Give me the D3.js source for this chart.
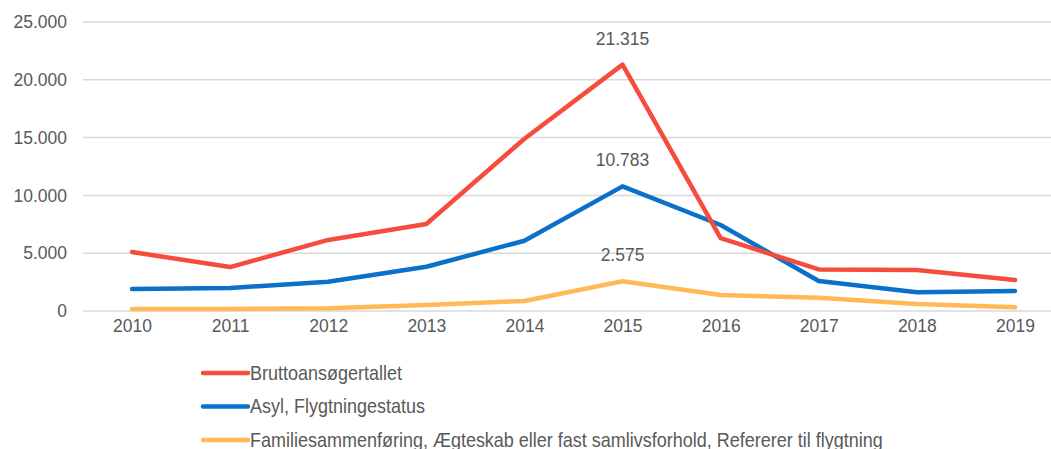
<!DOCTYPE html>
<html>
<head>
<meta charset="utf-8">
<script src="https://cdn.jsdelivr.net/npm/d3@7"></script>
<style>
  body { margin: 0; background: #fff; }
  svg text { font-family: "Liberation Sans", Arial, sans-serif; fill: #595959; }
</style>
</head>
<body>
<div id="chart"></div>
<script>
// data
var years = ["2010", "2011", "2012", "2013", "2014", "2015", "2016", "2017", "2018", "2019"];
var brutto = [5100, 3800, 6150, 7520, 14900, 21315, 6300, 3600, 3550, 2680];
var asyl = [1900, 2000, 2530, 3830, 6080, 10783, 7440, 2600, 1620, 1730];
var familie = [170, 170, 230, 520, 870, 2575, 1380, 1150, 600, 320];
var yTicks = [0, 5000, 10000, 15000, 20000, 25000];
var seriesNames = ["Bruttoansøgertallet", "Asyl, Flygtningestatus",
    "Familiesammenføring, Ægteskab eller fast samlivsforhold, Refererer til flygtning"];
var seriesColors = ["#f64c3d", "#0a70c9", "#ffb957"];
var seriesValues = [brutto, asyl, familie];

var W = 1051, H = 449;
var margin = {top: 22, left: 83},
    plotW = 981,
    plotH = 289;

var svg = d3.select("#chart").append("svg")
    .attr("width", W)
    .attr("height", H);

var g = svg.append("g")
    .attr("transform", "translate(" + margin.left + "," + margin.top + ")");

var x = d3.scalePoint().domain(years).range([0, plotW]).padding(0.5);
var y = d3.scaleLinear().domain([0, 25000]).range([plotH, 0]);

var fmt = function(v) { return d3.format(",")(v).replace(/,/g, "."); };

// gridlines
g.selectAll("line.grid")
    .data(yTicks)
    .enter().append("line")
    .attr("class", "grid")
    .attr("x1", 0).attr("x2", plotW)
    .attr("y1", function(d) { return y(d); })
    .attr("y2", function(d) { return y(d); })
    .style("stroke", "#d9d9d9")
    .style("stroke-width", 1.5);

// y axis labels
var yAxis = g.append("g")
    .call(d3.axisLeft(y).tickValues(yTicks).tickFormat(fmt).tickSize(0).tickPadding(16));
yAxis.select(".domain").remove();
yAxis.selectAll("text").style("font-size", "17.5px").style("fill", "#595959");

// x axis labels
var xAxis = g.append("g")
    .attr("transform", "translate(0," + plotH + ")")
    .call(d3.axisBottom(x).tickSize(0).tickPadding(9));
xAxis.select(".domain").remove();
xAxis.selectAll("text").style("font-size", "17.5px").style("fill", "#595959");

var line = d3.line()
    .x(function(d, i) { return x(years[i]); })
    .y(function(d) { return y(d); });

// draw bottom series first so red sits on top like the original
[2, 1, 0].forEach(function(k) {
    g.append("path")
        .datum(seriesValues[k])
        .attr("d", line)
        .style("fill", "none")
        .style("stroke", seriesColors[k])
        .style("stroke-width", 4.5)
        .style("stroke-linejoin", "round")
        .style("stroke-linecap", "round");
});

// peak labels
seriesValues.forEach(function(vals) {
    var i = years.indexOf("2015");
    g.append("text")
        .attr("x", x(years[i]))
        .attr("y", y(vals[i]) - 26)
        .attr("dy", "0.35em")
        .attr("text-anchor", "middle")
        .style("font-size", "17.5px")
        .text(fmt(vals[i]));
});

// legend
var legend = svg.append("g").attr("transform", "translate(203,373)");
seriesNames.forEach(function(name, i) {
    var row = legend.append("g").attr("transform", "translate(0," + (i * 33.5) + ")");
    row.append("line")
        .attr("x1", 0).attr("x2", 45)
        .style("stroke", seriesColors[i])
        .style("stroke-width", 4.5)
        .style("stroke-linecap", "round");
    row.append("text")
        .attr("transform", "translate(47,0) scale(1,1.08)")
        .attr("dy", "0.35em")
        .style("font-size", "18px")
        .text(name);
});
</script>
</body>
</html>
